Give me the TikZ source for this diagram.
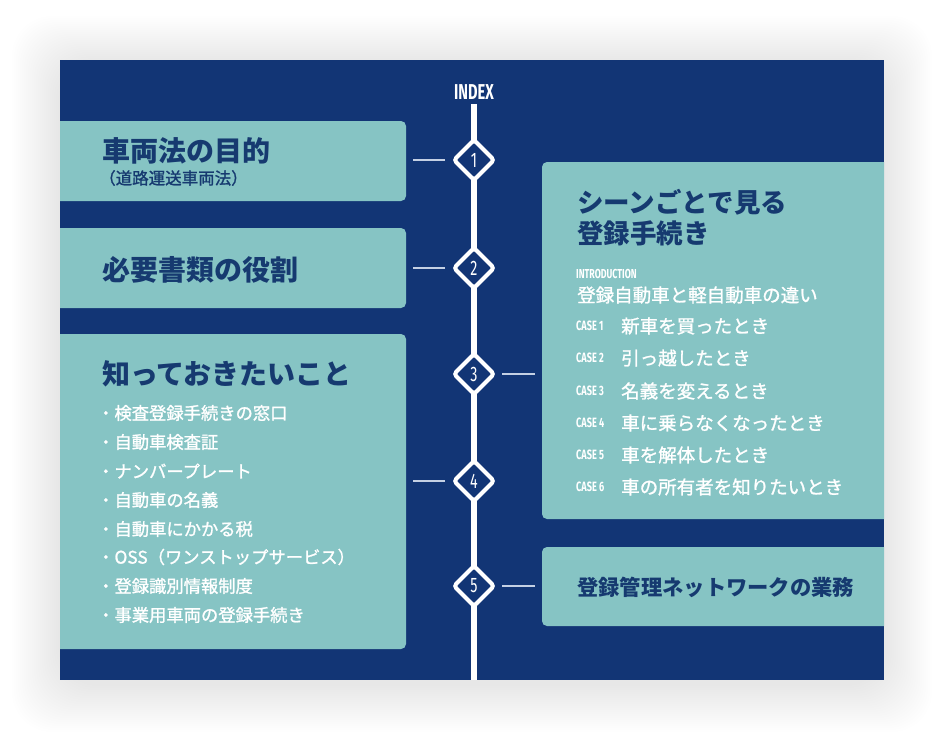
\documentclass[tikz,border=0pt]{standalone}
\usepackage{fontspec}
\setmainfont{Noto Sans CJK JP}
\newfontfamily\jpmed[FakeBold=1.3]{Noto Sans CJK JP}
\newfontfamily\cond[FakeStretch=0.68]{Fira Sans}
\usetikzlibrary{shapes.geometric}
\definecolor{panelnavy}{RGB}{18,53,117}
\definecolor{boxteal}{RGB}{134,196,196}
\definecolor{textnavy}{RGB}{22,58,112}
\definecolor{connc}{RGB}{196,208,228}
\tikzset{
 box/.style={fill=boxteal, rounded corners=5pt, inner sep=0pt, outer sep=0pt},
 dia/.style={diamond, draw=white, line width=4pt, fill=panelnavy, minimum width=40pt, minimum height=40pt, inner sep=0pt, outer sep=0pt, rounded corners=3pt, text=white, font=\cond\fontsize{21}{21}\selectfont},
 conn/.style={draw=connc, line width=1.3pt},
 head/.style={anchor=west, inner sep=0pt, text=textnavy, font=\bfseries\fontsize{28}{30}\selectfont},
 sub/.style={anchor=west, inner sep=0pt, text=textnavy, font=\jpmed\fontsize{16.5}{18}\selectfont},
 item/.style={anchor=west, inner sep=0pt, text=white, font=\jpmed\fontsize{17.3}{20}\selectfont},
 ritem/.style={anchor=west, inner sep=0pt, text=white, font=\jpmed\fontsize{18.5}{20}\selectfont},
 caselbl/.style={anchor=west, inner sep=0pt, text=white, font=\cond\bfseries\fontsize{13.5}{14}\selectfont},
}
\begin{document}
\begin{tikzpicture}[x=1pt,y=-1pt]
\useasboundingbox (0,0) rectangle (944,740);
\fill[white] (0,0) rectangle (944,740);
% soft shadow
\foreach \i in {1,...,24}{
  \fill[black, opacity=0.004, rounded corners=40pt] (60-2*\i, 64-2*\i) rectangle (884+2*\i, 684+2*\i);
}
% panel
\fill[panelnavy] (60,60) rectangle (884,680);
% boxes (clipped to panel)
\begin{scope}
\clip (60,60) rectangle (884,680);
\node[box, anchor=north west, minimum width=356pt, minimum height=80pt] (b1) at (50,121) {};
\node[box, anchor=north west, minimum width=356pt, minimum height=80pt] (b2) at (50,228) {};
\node[box, anchor=north west, minimum width=356pt, minimum height=315pt] (b3) at (50,334) {};
\node[box, anchor=north west, minimum width=352pt, minimum height=357pt] (b4) at (542,162) {};
\node[box, anchor=north west, minimum width=352pt, minimum height=79pt] (b5) at (542,547) {};
\end{scope}
% spine
\node[inner sep=0pt, text=white, font=\cond\bfseries\fontsize{21.5}{22}\selectfont] (idx) at (474,92) {INDEX};
\coordinate (top) at (474,104);
\coordinate (bot) at (474,680);
\draw[white, line width=5.5pt] (top) -- (bot);
% diamonds
\node[dia] (d1) at (474,160) {1};
\node[dia] (d2) at (474,268) {2};
\node[dia] (d3) at (474,374) {3};
\node[dia] (d4) at (474,481) {4};
\node[dia] (d5) at (474,586) {5};
% connectors
\draw[conn, shorten <=9pt, shorten >=7pt] (d1.west) -- (b1.east |- d1.west);
\draw[conn, shorten <=9pt, shorten >=7pt] (d2.west) -- (b2.east |- d2.west);
\draw[conn, shorten <=9pt, shorten >=7pt] (d4.west) -- (b3.east |- d4.west);
\draw[conn, shorten <=8pt, shorten >=7pt] (d3.east) -- (b4.west |- d3.east);
\draw[conn, shorten <=8pt, shorten >=7pt] (d5.east) -- (b5.west |- d5.east);
% box 1
\node[head] (t1) at (102,151) {車両法の目的};
\node[sub] (t1s) at (99,178) {（道路運送車両法）};
% box 2
\node[head] (t2) at (102,270) {必要書類の役割};
% box 3
\node[head] (t3) at (102,374) {知っておきたいこと};
\node[item] (i1) at (97,413) {・検査登録手続きの窓口};
\node[item] (i2) at (97,442) {・自動車検査証};
\node[item] (i3) at (97,471) {・ナンバープレート};
\node[item] (i4) at (97,500) {・自動車の名義};
\node[item] (i5) at (97,529) {・自動車にかかる税};
\node[item] (i6) at (97,557) {・OSS（ワンストップサービス）};
\node[item] (i7) at (97,586) {・登録識別情報制度};
\node[item] (i8) at (97,615) {・事業用車両の登録手続き};
% box 4
\node[head, font=\bfseries\fontsize{26.5}{30}\selectfont] (t4a) at (577,202) {シーンごとで見る};
\node[head, font=\bfseries\fontsize{26.5}{30}\selectfont] (t4b) at (577,233) {登録手続き};
\node[caselbl, font=\cond\bfseries\fontsize{13}{14}\selectfont] (intro) at (576,274) {INTRODUCTION};
\node[ritem] (r0) at (577,295) {登録自動車と軽自動車の違い};
\node[caselbl] (c1) at (576,326) {CASE 1};
\node[ritem] (r1) at (621,326) {新車を買ったとき};
\node[caselbl] (c2) at (576,358) {CASE 2};
\node[ritem] (r2) at (621,358) {引っ越したとき};
\node[caselbl] (c3) at (576,391) {CASE 3};
\node[ritem] (r3) at (621,391) {名義を変えるとき};
\node[caselbl] (c4) at (576,423) {CASE 4};
\node[ritem] (r4) at (621,423) {車に乗らなくなったとき};
\node[caselbl] (c5) at (576,455) {CASE 5};
\node[ritem] (r5) at (621,455) {車を解体したとき};
\node[caselbl] (c6) at (576,487) {CASE 6};
\node[ritem] (r6) at (621,487) {車の所有者を知りたいとき};
% box 5
\node[head, font=\bfseries\fontsize{21.3}{24}\selectfont] (t5) at (577,587) {登録管理ネットワークの業務};
\end{tikzpicture}
\end{document}
